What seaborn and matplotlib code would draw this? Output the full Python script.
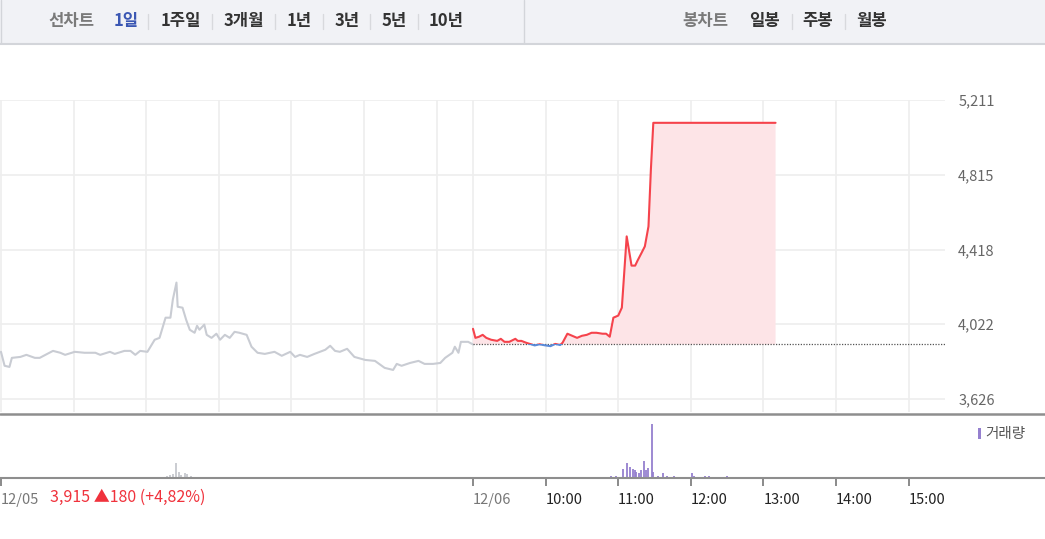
import numpy as np
import pandas as pd
import matplotlib
matplotlib.use("Agg")
import matplotlib.pyplot as plt
import seaborn as sns
from matplotlib.patches import Rectangle
from matplotlib.lines import Line2D

# 12/05 (previous day) price line
day1_time = ["09:00", "09:03", "09:07", "09:09", "09:16", "09:21", "09:28", "09:32", "09:40", "09:43",
             "09:49", "09:53", "10:01", "10:09", "10:18", "10:22", "10:30", "10:34", "10:42", "10:47",
             "10:51", "10:55", "11:01", "11:07", "11:11", "11:16", "11:20", "11:22", "11:25", "11:26",
             "11:30", "11:33", "11:36", "11:40", "11:42", "11:44", "11:48", "11:50", "11:54", "11:58",
             "12:01", "12:05", "12:09", "12:13", "12:17", "12:23", "12:27", "12:32", "12:38", "12:46",
             "12:52", "12:59", "13:03", "13:07", "13:13", "13:19", "13:28", "13:32", "13:36", "13:40",
             "13:46", "13:52", "14:01", "14:09", "14:17", "14:24", "14:27", "14:31", "14:38", "14:45",
             "14:50", "14:57", "15:03", "15:07", "15:13", "15:15", "15:18", "15:20", "15:26", "15:30"]
day1_price = [3876, 3802, 3796, 3844, 3849, 3860, 3844, 3844, 3871, 3881,
              3871, 3860, 3876, 3871, 3871, 3860, 3876, 3865, 3881, 3881,
              3860, 3881, 3876, 3940, 3950, 4057, 4057, 4153, 4243, 4115,
              4110, 4046, 3993, 3977, 4014, 3993, 4020, 3966, 3950, 3972,
              3940, 3966, 3950, 3982, 3977, 3966, 3903, 3871, 3865, 3876,
              3855, 3876, 3849, 3860, 3849, 3865, 3887, 3908, 3881, 3876,
              3892, 3849, 3833, 3828, 3791, 3780, 3812, 3802, 3817, 3828,
              3812, 3812, 3817, 3844, 3871, 3903, 3871, 3929, 3929, 3915]

# 12/06 price line
day2_time = ["09:00", "09:02", "09:05", "09:08", "09:11", "09:15", "09:20", "09:23", "09:26", "09:30",
             "09:35", "09:37", "09:40", "09:44", "09:47", "09:51", "09:55", "09:59", "10:04", "10:08",
             "10:12", "10:14", "10:18", "10:22", "10:26", "10:30", "10:34", "10:38", "10:42", "10:47",
             "10:50", "10:53", "10:56", "11:00", "11:03", "11:07", "11:11", "11:14", "11:16", "11:19",
             "11:22", "11:25", "11:27", "11:29", "13:10"]
day2_price = [3998, 3950, 3956, 3966, 3950, 3940, 3934, 3945, 3929, 3929,
              3945, 3934, 3934, 3924, 3918, 3910, 3916, 3911, 3906, 3918,
              3912, 3924, 3972, 3961, 3950, 3961, 3966, 3977, 3977, 3972,
              3972, 3956, 4057, 4068, 4110, 4488, 4333, 4333, 4360, 4397,
              4435, 4541, 4844, 5090, 5090]

prev_close = 3915

# volume
vol1_time = ["11:17", "11:20", "11:22", "11:25", "11:27", "11:29", "11:32", "11:34", "11:37",
             "11:47", "11:51", "11:56", "12:06", "12:21", "12:27", "14:13", "14:27"]
vol1_qty = [4000, 6000, 8000, 30000, 12000, 6000, 10000, 8000, 4000,
            2000, 2000, 2000, 2000, 2000, 2000, 2000, 2000]
vol2_time = ["10:54", "10:58", "11:04", "11:07", "11:10", "11:12", "11:14", "11:15", "11:17", "11:19",
             "11:21", "11:23", "11:25", "11:28", "11:29", "11:33", "11:37", "11:40", "11:46", "12:01",
             "12:03", "12:12", "12:15", "12:30"]
vol2_qty = [4000, 4000, 18000, 30000, 22000, 18000, 16000, 12000, 10000, 16000,
            34000, 16000, 20000, 108000, 12000, 4000, 10000, 4000, 4000, 10000,
            4000, 4000, 4000, 4000]

y_ticks = [3626, 4022, 4418, 4815, 5211]
x_tick_labels = ["12/05", "12/06", "10:00", "11:00", "12:00", "13:00", "14:00", "15:00"]
x_tick_times = [(0, "09:00"), (1, "09:00"), (1, "10:00"), (1, "11:00"), (1, "12:00"),
                (1, "13:00"), (1, "14:00"), (1, "15:00")]


def to_x(t, day):
    h, m = map(int, t.split(":"))
    return day * 390 + (h - 9) * 60 + m


d1 = pd.DataFrame({"x": [to_x(t, 0) for t in day1_time], "price": day1_price})
d2 = pd.DataFrame({"x": [to_x(t, 1) for t in day2_time], "price": day2_price})
v1 = pd.DataFrame({"x": [to_x(t, 0) for t in vol1_time], "qty": vol1_qty})
v2 = pd.DataFrame({"x": [to_x(t, 1) for t in vol2_time], "qty": vol2_qty})

sns.set_theme(style="white")
plt.rcParams["font.family"] = ["Noto Sans CJK KR", "DejaVu Sans"]

W, H = 1045, 539
fig = plt.figure(figsize=(W / 100, H / 100), dpi=100)


def fx(px):
    return px / W


def fy(py):
    return 1 - py / H


RED = "#f5434c"
BLUE = "#5a8ad8"
GRID = "#eeeeee"

# ---- header bar
fig.patches.append(Rectangle((0, fy(43)), 1, 43 / H, transform=fig.transFigure,
                             facecolor="#f1f2f6", edgecolor="none", zorder=0))
fig.lines.append(Line2D([0, 1], [fy(43.5), fy(43.5)], transform=fig.transFigure, color="#d3d5da", lw=1.5))
fig.lines.append(Line2D([fx(524), fx(524)], [fy(0), fy(43)], transform=fig.transFigure, color="#d3d5da", lw=1))
fig.lines.append(Line2D([fx(0.5), fx(0.5)], [fy(0), fy(43)], transform=fig.transFigure, color="#d3d5da", lw=1))

left_menu = [("선차트", 71, "#7a7a7a"), ("1일", 126, "#3b57b3"), ("1주일", 181, "#333333"),
             ("3개월", 244, "#333333"), ("1년", 299, "#333333"), ("3년", 347, "#333333"),
             ("5년", 394, "#333333"), ("10년", 446, "#333333")]
right_menu = [("봉차트", 705, "#7a7a7a"), ("일봉", 765, "#333333"), ("주봉", 818, "#333333"),
              ("월봉", 872, "#333333")]
for label, cx, col in left_menu + right_menu:
    fig.text(fx(cx), fy(21), label, ha="center", va="center", fontsize=12,
             fontweight="bold", color=col)
for sx in [148, 212, 275, 323, 370, 418, 792, 845]:
    fig.lines.append(Line2D([fx(sx), fx(sx)], [fy(14), fy(29)], transform=fig.transFigure,
                            color="#d8d9dd", lw=1))

# ---- price pane
ax = fig.add_axes([0, fy(412), fx(945), (412 - 100) / H])
ax.set_xlim(-0.8, 780)
ax.set_ylim(3557, 5211)

for xv in [0, 60, 120, 180, 240, 300, 360, 390, 450, 510, 570, 630, 690, 750]:
    ax.axvline(xv, color=GRID, lw=1.2, zorder=0)
for yv in y_ticks:
    ax.axhline(yv, color=GRID, lw=1.2, zorder=0)

sns.lineplot(data=d1, x="x", y="price", ax=ax, color="#c9ccd3", lw=1.5)

mask_x = d2["x"].to_numpy()
mask_y = d2["price"].to_numpy()
ax.fill_between(mask_x, mask_y, prev_close, where=mask_y >= prev_close, interpolate=True,
                color="#fde4e7", lw=0, zorder=1)
ax.hlines(prev_close, 390, 780, colors="#555555", linestyles=(0, (1, 1.2)), lw=0.9, zorder=2)

sns.lineplot(data=d2, x="x", y="price", ax=ax, color=RED, lw=1.5, zorder=3)
up_line = ax.lines[-1]
up_line.set_clip_path(Rectangle((380, prev_close), 420, 2000, transform=ax.transData))
sns.lineplot(data=d2, x="x", y="price", ax=ax, color=BLUE, lw=1.5, zorder=3)
dn_line = ax.lines[-1]
dn_line.set_clip_path(Rectangle((380, prev_close - 1000), 420, 1000, transform=ax.transData))

ax.yaxis.tick_right()
ax.set_yticks(y_ticks)
ax.set_yticklabels([f"{v:,}" for v in y_ticks])
ax.tick_params(axis="y", length=0, pad=9.5, labelsize=10.5, labelcolor="#666666")
ax.set_xticks([])
ax.set_xlabel("")
ax.set_ylabel("")
for sp in ax.spines.values():
    sp.set_visible(False)

# ---- volume pane
axv = fig.add_axes([0, fy(478), fx(945), (478 - 414) / H])
axv.set_xlim(-0.8, 780)
axv.set_ylim(0, 128000)
axv.vlines(v1["x"], 0, v1["qty"], colors="#c6c8ce", lw=1.3)
axv.vlines(v2["x"], 0, v2["qty"], colors="#9580cf", lw=1.3)
axv.set_yticks([])
for sp in axv.spines.values():
    sp.set_visible(False)
xt = [to_x(t, d) for d, t in x_tick_times]
axv.set_xticks(xt)
axv.set_xticklabels(x_tick_labels, ha="left")
axv.tick_params(axis="x", direction="out", length=5.5, width=1.2, color="#777777",
                pad=5, labelsize=10.5, labelcolor="#222222", bottom=True)
for i, lab in enumerate(axv.get_xticklabels()):
    if i < 2:
        lab.set_color("#777777")

# separator lines spanning full width
fig.lines.append(Line2D([0, 1], [fy(413.5), fy(413.5)], transform=fig.transFigure, color="#8e8e8e", lw=1.8))
fig.lines.append(Line2D([0, 1], [fy(478), fy(478)], transform=fig.transFigure, color="#8e8e8e", lw=1.5))

# volume legend
fig.patches.append(Rectangle((fx(977.5), fy(439)), 3.5 / W, 11 / H, transform=fig.transFigure,
                             facecolor="#9580cf", edgecolor="none"))
fig.text(fx(985), fy(434), "거래량", ha="left", va="center", fontsize=10.5, color="#555555")

# close info
fig.text(fx(50), fy(497), "3,915 ▲180 (+4,82%)", ha="left", va="center", fontsize=11.5,
         color="#f0323c", family=["Noto Sans CJK KR", "DejaVu Sans"])

fig.savefig("out.png", dpi=100)
